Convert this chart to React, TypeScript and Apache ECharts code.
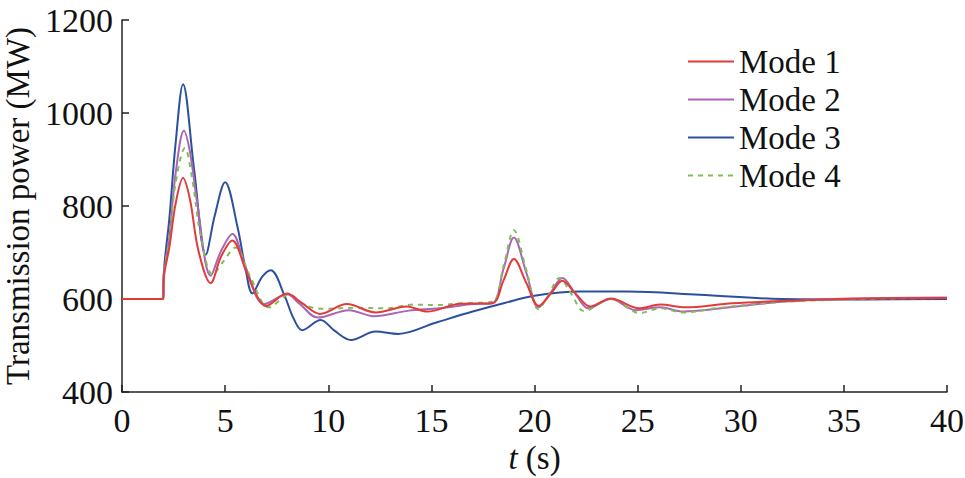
import React, { useEffect, useRef } from "react";
import * as echarts from "echarts";

const xTicks = [0, 5, 10, 15, 20, 25, 30, 35, 40];
const yTicks = [400, 600, 800, 1000, 1200];

const mode1: [number, number][] = [
  [0, 600], [2, 600], [2.02, 642], [2.3, 712], [2.6, 805], [2.96, 860], [3.3, 813], [3.7, 705],
  [4.3, 634], [4.8, 691], [5.35, 726], [6.0, 662], [6.48, 612], [6.97, 585], [8.0, 612],
  [8.7, 592], [9.6, 568], [10.9, 589], [12.3, 571], [13.8, 584], [14.8, 573], [16.4, 590],
  [17.95, 591], [18.5, 640], [19.0, 686], [19.6, 635], [20.2, 585], [20.8, 612], [21.35, 639],
  [22.0, 611], [22.7, 584], [23.7, 601], [25.07, 580], [26.1, 588], [27.3, 582], [29.6, 591],
  [32.8, 597], [36, 601], [40, 602],
];

const mode2: [number, number][] = [
  [0, 600], [2, 600], [2.02, 645], [2.3, 735], [2.6, 870], [3.0, 962], [3.3, 915], [3.65, 806],
  [4.3, 650], [4.8, 703], [5.35, 740], [6.0, 668], [6.9, 589], [8.0, 610], [8.6, 590],
  [9.5, 560], [11.0, 576], [12.2, 563], [13.9, 575], [15.4, 580], [17.0, 589], [17.95, 591],
  [18.5, 665], [19.0, 732], [19.6, 657], [20.2, 582], [20.8, 615], [21.35, 645], [22.0, 610],
  [22.6, 580], [23.7, 600], [24.9, 576], [26.1, 582], [27.2, 573], [29.6, 583], [32, 594],
  [34.4, 600], [37, 602], [40, 603],
];

const mode3: [number, number][] = [
  [0, 600], [2, 600], [2.02, 650], [2.3, 775], [2.6, 935], [2.96, 1062], [3.5, 877],
  [4.06, 695], [4.5, 780], [5.0, 851], [5.6, 755], [6.0, 662], [6.32, 612], [6.8, 648],
  [7.21, 662], [7.9, 605], [8.3, 560], [8.74, 533], [9.63, 555], [10.3, 532], [11.1, 512],
  [12.3, 530], [13.4, 525], [15.2, 549], [17.0, 573], [18.6, 592], [20.0, 607], [22.2, 616],
  [24.5, 616], [28, 609], [32, 600], [36, 599], [40, 600],
];

const mode4: [number, number][] = [
  [0, 600], [2, 600], [2.02, 645], [2.3, 730], [2.6, 850], [3.05, 925], [3.4, 860], [3.8, 740],
  [4.4, 652], [4.9, 680], [5.5, 711], [6.2, 650], [7.13, 582], [8.1, 609], [8.9, 586],
  [9.8, 579], [11.3, 581], [12.8, 580], [14.1, 588], [15.3, 587], [16.5, 591], [17.95, 594],
  [18.5, 671], [19.0, 748], [19.6, 663], [20.2, 578], [20.7, 610], [21.2, 645], [21.8, 610],
  [22.4, 574], [23.7, 600], [25.1, 570], [26.1, 580], [27.2, 571], [28.8, 580], [31.2, 591],
  [33.6, 597], [37, 601], [40, 602],
];

const names = ["Mode 1", "Mode 2", "Mode 3", "Mode 4"];
const colors = ["#E23B3C", "#A966B3", "#2C519C", "#7FBE5B"];

const FONT = "Liberation Serif";

export default function App() {
  const ref = useRef<HTMLDivElement>(null);
  useEffect(() => {
    if (!ref.current) return;
    const chart = echarts.init(ref.current, undefined, { renderer: "svg" });
    const mk = (i: number, data: [number, number][], z: number, dashed = false) => ({
      name: names[i],
      type: "line",
      data,
      smooth: 0.35,
      symbol: "none",
      showSymbol: false,
      z,
      lineStyle: { color: colors[i], width: 2, type: dashed ? [5, 5] : "solid" },
      itemStyle: { color: colors[i] },
    });
    chart.setOption({
      animation: false,
      textStyle: { fontFamily: FONT },
      grid: { left: 122, top: 20, width: 825, height: 372, outerBoundsMode: "none", containLabel: false },
      legend: {
        data: names,
        orient: "vertical",
        left: 687,
        top: 45,
        padding: 0,
        itemWidth: 46,
        itemHeight: 12,
        itemGap: 5,
        itemStyle: { opacity: 0 },
        textStyle: { fontFamily: FONT, fontSize: 33, color: "#111", lineHeight: 33 },
      },
      xAxis: {
        type: "value",
        min: xTicks[0],
        max: xTicks[xTicks.length - 1],
        interval: 5,
        name: "{i|t} (s)",
        nameLocation: "middle",
        nameGap: 48,
        nameTextStyle: {
          fontFamily: FONT,
          fontSize: 33,
          color: "#111",
          rich: { i: { fontStyle: "italic", fontFamily: FONT, fontSize: 33, color: "#111" } },
        },
        axisLine: { lineStyle: { color: "#222", width: 1.5 } },
        axisTick: { inside: true, length: 7, lineStyle: { color: "#222", width: 1.5 } },
        axisLabel: {
          fontFamily: FONT,
          fontSize: 34,
          color: "#111",
          margin: 11,
          formatter: (v: number) => String(v),
        },
        splitLine: { show: false },
      },
      yAxis: {
        type: "value",
        min: yTicks[0],
        max: yTicks[yTicks.length - 1],
        interval: 200,
        name: "Transmission power (MW)",
        nameLocation: "middle",
        nameGap: 86,
        nameTextStyle: { fontFamily: FONT, fontSize: 33, color: "#111" },
        axisLine: { show: true, lineStyle: { color: "#222", width: 1.5 } },
        axisTick: { show: true, inside: true, length: 7, lineStyle: { color: "#222", width: 1.5 } },
        axisLabel: {
          fontFamily: FONT,
          fontSize: 34,
          color: "#111",
          margin: 9,
          formatter: (v: number) => String(v),
        },
        splitLine: { show: false },
      },
      series: [
        mk(0, mode1, 5),
        mk(1, mode2, 3),
        mk(2, mode3, 2),
        mk(3, mode4, 4, true),
      ],
    });
    return () => chart.dispose();
  }, []);
  return (
    <div
      ref={ref}
      style={{ position: "fixed", left: 0, top: 0, width: 965, height: 478, background: "#fff" }}
    />
  );
}
